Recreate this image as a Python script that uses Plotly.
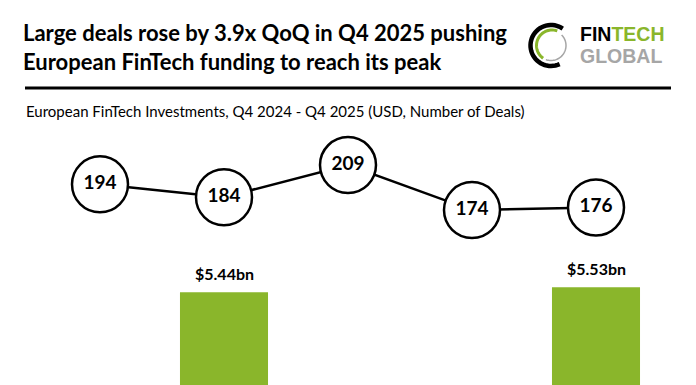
import numpy as np
import plotly.graph_objects as go

# ---- data ----
quarters = ["Q4 2024", "Q1 2025", "Q2 2025", "Q3 2025", "Q4 2025"]
funding_bn = [3.2, 5.44, 3.1, 1.4, 5.53]      # USD bn (only two bars visible in the crop)
deal_counts = [194, 184, 209, 174, 176]

title_text = "Large deals rose by 3.9x QoQ in Q4 2025 pushing<br>European FinTech funding to reach its peak"
subtitle_text = "European FinTech Investments, Q4 2024 - Q4 2025 (USD, Number of Deals)"

OFF = 8  # page body margin
W, H = 696 - OFF, 385 - OFF
GREEN = "#8AB62B"

def px(x):
    return (x - OFF) / W

def py(y):
    return 1 - (y - OFF) / H

bar_range = [3.773, 10.553]
line_range = [38.0, 331.1]
x0_pix = 100 - OFF
step = 124.0

fig = go.Figure()
fig.add_trace(go.Bar(
    x=quarters, y=funding_bn, marker=dict(color=GREEN, line=dict(width=0)),
    width=0.71, cliponaxis=True, hoverinfo="skip", showlegend=False,
))
fig.add_trace(go.Scatter(
    x=quarters, y=deal_counts, yaxis="y2", mode="lines+markers+text",
    text=[str(v) for v in deal_counts], textposition="middle center",
    textfont=dict(family="Lato", size=19, color="black", weight="bold"),
    line=dict(color="black", width=2.5),
    marker=dict(size=56, color="white", line=dict(color="black", width=2.5)),
    cliponaxis=False, showlegend=False,
))

annotations = []
for q, v in zip(quarters, funding_bn):
    if v > bar_range[0]:
        annotations.append(dict(
            x=q, y=v, xref="x", yref="y", text=f"${v:.2f}bn", showarrow=False,
            yanchor="bottom", yshift=7,
            font=dict(family="Lato", size=16, color="black", weight="bold"),
        ))

annotations.append(dict(
    x=px(21), y=py(47), xref="paper", yref="paper", xanchor="left", yanchor="middle",
    text=title_text, showarrow=False, align="left",
    font=dict(family="Lato", size=22, color="black", weight="bold"),
))
annotations.append(dict(
    x=px(24), y=py(111), xref="paper", yref="paper", xanchor="left", yanchor="middle",
    text=subtitle_text, showarrow=False, align="left",
    font=dict(family="Lato", size=15, color="black"),
))
# logo text (one block, line spacing set by base size, glyphs sized by span)
annotations.append(dict(
    x=px(578), y=py(45.5), xref="paper", yref="paper", xanchor="left", yanchor="middle",
    text=("<span style='font-size:19.5px'>FIN<span style='fill:%s'>TECH</span></span><br>"
          "<span style='font-size:19.5px;fill:#A6A6A6'>GLOBAL</span>") % GREEN,
    showarrow=False, align="left",
    font=dict(family="Liberation Sans", size=17.3, color="black", weight="bold"),
))

shapes = [dict(type="line", xref="paper", yref="paper", x0=px(25), x1=px(671),
               y0=py(88), y1=py(88), line=dict(color="black", width=3))]

def arc(cx, cy, r, a0, a1, n=40):
    t = np.radians(np.linspace(a0, a1, n))
    xs = cx + r * np.cos(t)
    ys = cy - r * np.sin(t)
    pts = ["%s%.5f,%.5f" % ("M" if i == 0 else "L", px(x), py(y)) for i, (x, y) in enumerate(zip(xs, ys))]
    return " ".join(pts)

shapes.append(dict(type="path", xref="paper", yref="paper", path=arc(551, 45.5, 20.5, 55, 295),
                   line=dict(color="black", width=4.5)))
shapes.append(dict(type="path", xref="paper", yref="paper", path=arc(552, 45.5, 15.5, 70, 235),
                   line=dict(color=GREEN, width=3)))
shapes.append(dict(type="path", xref="paper", yref="paper", path=arc(551, 45.5, 15, -110, 45),
                   line=dict(color="#A6A6A6", width=1.5)))

fig.update_layout(
    width=W, height=H, margin=dict(l=0, r=0, t=0, b=0),
    paper_bgcolor="white", plot_bgcolor="white",
    xaxis=dict(range=[-x0_pix / step, (W - x0_pix) / step], visible=False, fixedrange=True),
    yaxis=dict(range=bar_range, visible=False),
    yaxis2=dict(range=line_range, visible=False, overlaying="y"),
    annotations=annotations, shapes=shapes, showlegend=False,
)

fig.write_html("out.html")
